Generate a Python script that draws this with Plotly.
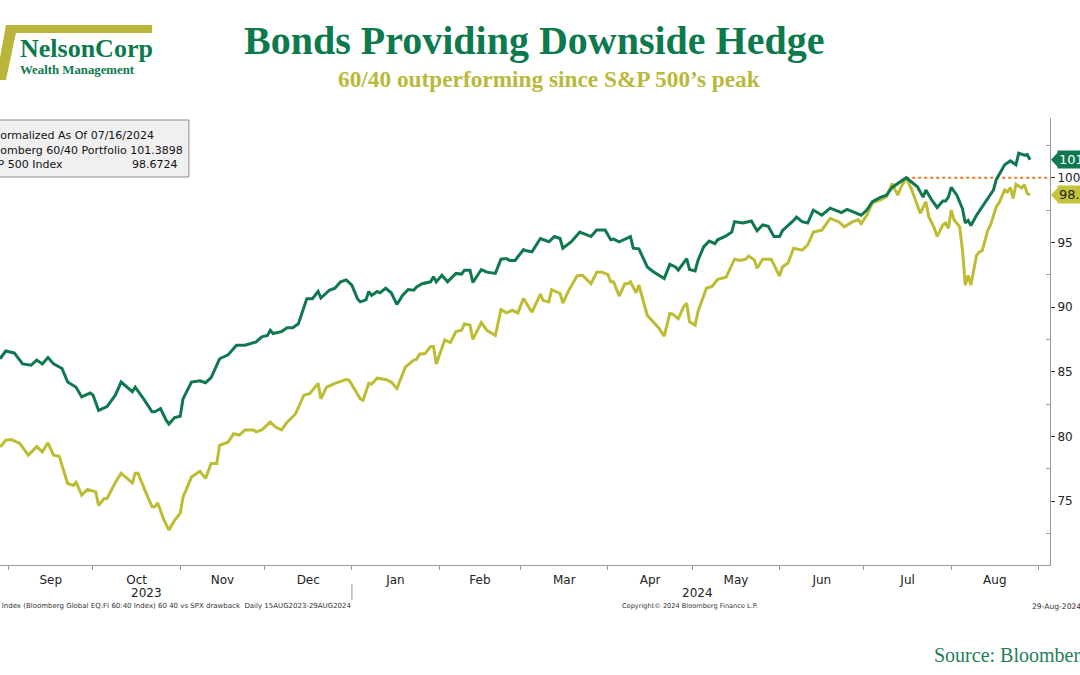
import plotly.graph_objects as go

# ---------------- data ----------------
green_dates = [
    "2023-08-29", "2023-08-31", "2023-09-03", "2023-09-06", "2023-09-09", "2023-09-11", "2023-09-13",
    "2023-09-15", "2023-09-17", "2023-09-20", "2023-09-22", "2023-09-25", "2023-09-27", "2023-09-30",
    "2023-10-01", "2023-10-03", "2023-10-06", "2023-10-09", "2023-10-11", "2023-10-15", "2023-10-16",
    "2023-10-19", "2023-10-22", "2023-10-23", "2023-10-25", "2023-10-27", "2023-10-28", "2023-10-30",
    "2023-11-01", "2023-11-02", "2023-11-05", "2023-11-08", "2023-11-10", "2023-11-12", "2023-11-15",
    "2023-11-18", "2023-11-21", "2023-11-24", "2023-11-28", "2023-11-30", "2023-12-02", "2023-12-03",
    "2023-12-04", "2023-12-07", "2023-12-09", "2023-12-11", "2023-12-13", "2023-12-15", "2023-12-16",
    "2023-12-18", "2023-12-20", "2023-12-21", "2023-12-24", "2023-12-26", "2023-12-28", "2023-12-30",
    "2024-01-01", "2024-01-03", "2024-01-04", "2024-01-06", "2024-01-07", "2024-01-08", "2024-01-10",
    "2024-01-11", "2024-01-13", "2024-01-15", "2024-01-17", "2024-01-19", "2024-01-21", "2024-01-23",
    "2024-01-24", "2024-01-26", "2024-01-29", "2024-01-30", "2024-01-31", "2024-02-02", "2024-02-04",
    "2024-02-07", "2024-02-09", "2024-02-10", "2024-02-12", "2024-02-13", "2024-02-16", "2024-02-18",
    "2024-02-21", "2024-02-23", "2024-02-25", "2024-02-26", "2024-02-28", "2024-03-02", "2024-03-03",
    "2024-03-05", "2024-03-08", "2024-03-11", "2024-03-13", "2024-03-15", "2024-03-16", "2024-03-19",
    "2024-03-22", "2024-03-26", "2024-03-28", "2024-03-31", "2024-04-02", "2024-04-03", "2024-04-05",
    "2024-04-09", "2024-04-10", "2024-04-12", "2024-04-15", "2024-04-17", "2024-04-19", "2024-04-21",
    "2024-04-23", "2024-04-25", "2024-04-26", "2024-04-28", "2024-04-29", "2024-04-30", "2024-05-02",
    "2024-05-03", "2024-05-05", "2024-05-07", "2024-05-09", "2024-05-10", "2024-05-13", "2024-05-15",
    "2024-05-16", "2024-05-19", "2024-05-22", "2024-05-24", "2024-05-26", "2024-05-28", "2024-05-30",
    "2024-06-01", "2024-06-02", "2024-06-06", "2024-06-07", "2024-06-09", "2024-06-11", "2024-06-13",
    "2024-06-16", "2024-06-19", "2024-06-21", "2024-06-23", "2024-06-25", "2024-06-28", "2024-06-30",
    "2024-07-02", "2024-07-04", "2024-07-07", "2024-07-09", "2024-07-11", "2024-07-14", "2024-07-16",
    "2024-07-20", "2024-07-22", "2024-07-23", "2024-07-25", "2024-07-27", "2024-07-29", "2024-07-30",
    "2024-07-31", "2024-08-01", "2024-08-03", "2024-08-05", "2024-08-06", "2024-08-07", "2024-08-08",
    "2024-08-10", "2024-08-12", "2024-08-14", "2024-08-16", "2024-08-17", "2024-08-20", "2024-08-22",
    "2024-08-24", "2024-08-25", "2024-08-27", "2024-08-28", "2024-08-29",
]
green_values = [
    86.0, 86.6, 86.45, 85.6, 85.5, 85.9, 85.6,
    86.1, 85.6, 85.25, 84.2, 83.8, 83.05, 83.35,
    83.2, 82.0, 82.3, 83.2, 84.2, 83.45, 83.8,
    82.9, 81.9, 81.9, 82.15, 81.25, 80.95, 81.45,
    81.55, 82.9, 84.2, 84.3, 84.15, 84.55, 86.0,
    86.3, 87.05, 87.05, 87.3, 87.7, 87.8, 88.2,
    87.95, 88.1, 88.4, 88.4, 88.7, 89.9, 90.65,
    90.65, 91.2, 90.7, 91.3, 91.45, 91.95, 92.1,
    91.7, 90.65, 90.4, 90.55, 91.2, 90.9, 91.2,
    91.1, 91.45, 91.1, 90.2, 90.9, 91.35, 91.3,
    91.55, 91.8, 91.95, 92.35, 91.95, 92.45, 91.95,
    92.6, 92.55, 92.85, 92.85, 91.9, 92.9, 92.7,
    92.6, 93.7, 93.75, 93.6, 93.6, 94.45, 94.35,
    94.27, 95.3, 95.05, 95.45, 95.3, 94.55, 95.05,
    95.8, 95.45, 95.95, 95.95, 95.2, 95.25, 95.05,
    95.45, 94.55, 94.5, 93.1, 92.75, 92.5, 92.2,
    93.3, 93.1, 92.85, 93.4, 93.75, 92.9, 92.8,
    93.6, 94.65, 95.1, 94.9, 95.2, 95.5, 95.8,
    96.6, 96.5, 96.65, 95.9, 96.35, 96.25, 95.45,
    95.45, 95.9, 96.7, 96.95, 96.6, 96.5, 97.5,
    97.1, 97.65, 97.5, 97.3, 97.55, 97.25, 97.1,
    97.5, 98.15, 98.5, 98.65, 99.25, 99.7, 100.0,
    99.3, 98.5, 99.05, 98.3, 97.7, 98.2, 98.2,
    98.5, 99.25, 98.65, 97.6, 96.5, 96.7, 96.3,
    97.1, 97.75, 98.3, 99.05, 99.85, 101.0, 101.3,
    101.0, 101.9, 101.75, 101.8, 101.39,
]

yellow_dates = [
    "2023-08-29", "2023-08-31", "2023-09-02", "2023-09-05", "2023-09-08", "2023-09-11", "2023-09-13",
    "2023-09-15", "2023-09-17", "2023-09-19", "2023-09-22", "2023-09-24", "2023-09-25", "2023-09-27",
    "2023-09-29", "2023-10-02", "2023-10-03", "2023-10-05", "2023-10-06", "2023-10-09", "2023-10-11",
    "2023-10-15", "2023-10-16", "2023-10-17", "2023-10-20", "2023-10-22", "2023-10-23", "2023-10-24",
    "2023-10-26", "2023-10-28", "2023-10-30", "2023-11-01", "2023-11-02", "2023-11-05", "2023-11-08",
    "2023-11-10", "2023-11-12", "2023-11-14", "2023-11-15", "2023-11-18", "2023-11-20", "2023-11-22",
    "2023-11-24", "2023-11-27", "2023-11-28", "2023-11-30", "2023-12-03", "2023-12-05", "2023-12-07",
    "2023-12-09", "2023-12-12", "2023-12-14", "2023-12-15", "2023-12-17", "2023-12-20", "2023-12-21",
    "2023-12-23", "2023-12-26", "2023-12-30", "2023-12-31", "2024-01-02", "2024-01-04", "2024-01-05",
    "2024-01-07", "2024-01-08", "2024-01-10", "2024-01-13", "2024-01-15", "2024-01-17", "2024-01-20",
    "2024-01-23", "2024-01-24", "2024-01-25", "2024-01-27", "2024-01-29", "2024-01-30", "2024-01-31",
    "2024-02-03", "2024-02-05", "2024-02-07", "2024-02-09", "2024-02-10", "2024-02-12", "2024-02-13",
    "2024-02-16", "2024-02-18", "2024-02-21", "2024-02-23", "2024-02-25", "2024-02-27", "2024-02-29",
    "2024-03-02", "2024-03-05", "2024-03-08", "2024-03-09", "2024-03-11", "2024-03-12", "2024-03-15",
    "2024-03-16", "2024-03-18", "2024-03-21", "2024-03-23", "2024-03-26", "2024-03-28", "2024-03-30",
    "2024-04-01", "2024-04-02", "2024-04-03", "2024-04-05", "2024-04-07", "2024-04-08", "2024-04-09",
    "2024-04-11", "2024-04-12", "2024-04-15", "2024-04-16", "2024-04-18", "2024-04-19", "2024-04-21",
    "2024-04-23", "2024-04-24", "2024-04-26", "2024-04-28", "2024-04-29", "2024-04-30", "2024-05-02",
    "2024-05-03", "2024-05-06", "2024-05-08", "2024-05-10", "2024-05-13", "2024-05-16", "2024-05-18",
    "2024-05-20", "2024-05-21", "2024-05-23", "2024-05-24", "2024-05-26", "2024-05-29", "2024-06-01",
    "2024-06-02", "2024-06-04", "2024-06-06", "2024-06-09", "2024-06-11", "2024-06-13", "2024-06-15",
    "2024-06-16", "2024-06-19", "2024-06-22", "2024-06-24", "2024-06-27", "2024-06-29", "2024-06-30",
    "2024-07-02", "2024-07-04", "2024-07-07", "2024-07-09", "2024-07-11", "2024-07-13", "2024-07-14",
    "2024-07-16", "2024-07-18", "2024-07-20", "2024-07-21", "2024-07-23", "2024-07-24", "2024-07-26",
    "2024-07-27", "2024-07-29", "2024-07-30", "2024-07-31", "2024-08-01", "2024-08-02", "2024-08-04",
    "2024-08-05", "2024-08-06", "2024-08-07", "2024-08-08", "2024-08-10", "2024-08-11", "2024-08-12",
    "2024-08-14", "2024-08-15", "2024-08-17", "2024-08-18", "2024-08-20", "2024-08-21", "2024-08-22",
    "2024-08-23", "2024-08-24", "2024-08-26", "2024-08-27", "2024-08-28", "2024-08-29",
]
yellow_values = [
    79.18, 79.7, 79.75, 79.45, 78.55, 79.2, 78.8,
    79.5, 78.55, 78.45, 76.35, 76.2, 76.45, 75.45,
    75.9, 75.7, 74.65, 75.2, 75.2, 76.45, 77.15,
    76.4, 77.15, 77.15, 75.55, 74.55, 74.55, 74.85,
    73.65, 72.75, 73.5, 74.05, 75.3, 76.85, 77.3,
    76.75, 77.9, 77.9, 79.3, 79.55, 80.2, 80.1,
    80.5, 80.5, 80.35, 80.5, 81.1, 80.7, 80.5,
    81.1, 81.75, 82.8, 83.2, 83.3, 84.1, 82.9,
    83.8, 84.1, 84.4, 84.35, 83.6, 82.9, 82.8,
    84.1, 84.05, 84.5, 84.4, 84.2, 83.7, 85.35,
    85.9, 85.95, 86.35, 86.4, 86.95, 86.95, 85.6,
    87.45, 87.25, 88.1, 88.2, 88.7, 88.6, 87.5,
    88.8, 88.2, 87.8, 89.8, 89.55, 89.75, 89.55,
    90.65, 89.6, 91.0, 90.5, 90.4, 91.35, 91.05,
    90.3, 91.25, 92.4, 92.45, 91.8, 92.7, 92.7,
    92.5, 91.95, 91.95, 90.85, 91.8, 91.8, 91.95,
    91.1, 91.7, 89.35, 89.1, 88.6, 88.4, 87.75,
    89.5, 89.45, 89.1, 90.05, 90.3, 88.85, 88.6,
    89.65, 91.45, 91.6, 92.15, 92.3, 93.7, 93.6,
    93.7, 93.95, 93.65, 93.0, 93.7, 93.7, 92.4,
    93.1, 93.4, 94.55, 94.4, 94.8, 95.8, 95.9,
    95.95, 96.85, 96.6, 96.2, 96.6, 96.75, 96.45,
    97.1, 98.05, 98.3, 98.55, 99.55, 98.65, 99.2,
    100.0, 99.05, 97.9, 97.25, 98.15, 97.0, 96.1,
    95.45, 96.35, 96.5, 96.1, 97.5, 96.75, 96.2,
    94.4, 91.7, 92.45, 91.7, 94.0, 94.25, 94.35,
    95.95, 96.35, 97.75, 98.05, 99.05, 98.9, 99.25,
    98.4, 99.5, 99.2, 99.45, 98.8, 98.67,
]

green_name = "Bloomberg 60/40 Portfolio"
yellow_name = "S&P 500 Index"
green_last = 101.3898
yellow_last = 98.6724
normalize_date = "2024-07-16"
normalize_level = 100
y_tickvals = [75, 80, 85, 90, 95, 100]
y_minor_tickvals = [72.5, 77.5, 82.5, 87.5, 92.5, 97.5, 102.5]
year_labels = ["2023", "2024"]
year_label_dates = ["2023-10-20", "2024-05-03"]
year_break_date = "2024-01-01"

# ---------------- layout geometry ----------------
W, H = 1080, 675
ML, MR, MT, MB = 0, 24, 118, 110
PW = W - ML - MR
PH = H - MT - MB
Y_RANGE = [70.05, 104.62]


def px(xpix):
    return (xpix - ML) / PW


def py(ypix):
    return 1 - (ypix - MT) / PH


GREEN = "#10784e"
YELLOW = "#bdbd34"
TITLE_GREEN = "#0d7a4e"
OLIVE = "#b9b53a"
AXIS = "#9a9a9a"
TICKFONT = "DejaVu Sans"

fig = go.Figure()
fig.add_trace(go.Scatter(x=yellow_dates, y=yellow_values, mode="lines", name=yellow_name,
                         line=dict(color=YELLOW, width=3), showlegend=False))
fig.add_trace(go.Scatter(x=green_dates, y=green_values, mode="lines", name=green_name,
                         line=dict(color=GREEN, width=3), showlegend=False))

fig.update_layout(
    width=W, height=H,
    margin=dict(l=ML, r=MR, t=MT, b=MB),
    paper_bgcolor="white", plot_bgcolor="white",
    showlegend=False,
    xaxis=dict(
        type="date",
        range=["2023-08-28 23:00", "2024-09-05 02:30"],
        dtick="M1", tick0="2023-09-01", tickformat="%b", ticklabelmode="period",
        ticks="outside", ticklen=4, tickcolor=AXIS,
        showline=True, linecolor=AXIS, linewidth=1,
        showgrid=False, zeroline=False,
        tickfont=dict(family=TICKFONT, size=12, color="#222"),
    ),
    yaxis=dict(
        side="right",
        range=Y_RANGE,
        tickvals=y_tickvals,
        ticks="outside", ticklen=4, tickcolor="#333",
        showline=True, linecolor=AXIS, linewidth=1,
        showgrid=False, zeroline=False,
        tickfont=dict(family=TICKFONT, size=12, color="#222"),
        minor=dict(tickvals=y_minor_tickvals, ticks="inside", ticklen=4, tickcolor=AXIS),
    ),
)

shapes = []
# orange dotted line at the normalisation level
shapes.append(dict(type="line", xref="x", yref="y", x0=normalize_date, x1="2024-09-10",
                   y0=normalize_level, y1=normalize_level,
                   line=dict(color="#f07a1e", width=2, dash="dot"), layer="below"))

# logo mark
logo_pts = [(6, 25), (153, 25), (153, 33), (16, 33), (6, 80), (-4, 80)]
path = "M " + " L ".join(f"{px(a):.5f},{py(b):.5f}" for a, b in logo_pts) + " Z"
shapes.append(dict(type="path", xref="paper", yref="paper", path=path,
                   fillcolor=OLIVE, line=dict(width=0)))

# legend box
shapes.append(dict(type="rect", xref="paper", yref="paper",
                   x0=px(-6), x1=px(190), y0=py(177), y1=py(120),
                   fillcolor="#f0f0f0", line=dict(color="#8a8a8a", width=1)))

# year separator on the time axis
shapes.append(dict(type="line", xref="x", yref="paper", x0=year_break_date, x1=year_break_date,
                   y0=py(584), y1=py(600), line=dict(color="#bbbbbb", width=1.5)))

# pointed value tags on the right
for val, col in [(green_last, GREEN), (yellow_last, "#c4c43c")]:
    half = 7.5 * (Y_RANGE[1] - Y_RANGE[0]) / PH
    tri = (f"M {px(1057):.5f},{val:.4f} L {px(1064):.5f},{val + half:.4f} "
           f"L {px(1064):.5f},{val - half:.4f} Z")
    shapes.append(dict(type="path", xref="paper", yref="y", path=tri,
                       fillcolor=col, line=dict(width=0)))

fig.update_layout(shapes=shapes)

ann = []
# title + subtitle
ann.append(dict(text="<b>Bonds Providing Downside Hedge</b>", xref="paper", yref="paper",
                x=px(538), y=py(40), xanchor="center", yanchor="middle", showarrow=False,
                font=dict(family="Liberation Serif", size=40, color=TITLE_GREEN)))
ann.append(dict(text="<b>60/40 outperforming since S&P 500’s peak</b>", xref="paper", yref="paper",
                x=px(552), y=py(79), xanchor="center", yanchor="middle", showarrow=False,
                font=dict(family="Liberation Serif", size=23.3, color="#b9b93c")))
# logo text
ann.append(dict(text="<b>NelsonCorp</b>", xref="paper", yref="paper",
                x=px(18), y=py(49), xanchor="left", yanchor="middle", showarrow=False,
                font=dict(family="Liberation Serif", size=26, color=TITLE_GREEN)))
ann.append(dict(text="<b>Wealth Management</b>", xref="paper", yref="paper",
                x=px(18), y=py(70.5), xanchor="left", yanchor="middle", showarrow=False,
                font=dict(family="Liberation Serif", size=12.8, color=TITLE_GREEN)))

# legend box text
lfont = dict(family=TICKFONT, size=11, color="#111")
ann.append(dict(text=f"Normalized As Of {normalize_date[5:7]}/{normalize_date[8:10]}/{normalize_date[:4]}",
                xref="paper", yref="paper", x=px(-10.5), y=py(135), xanchor="left", yanchor="middle",
                showarrow=False, font=lfont))
ann.append(dict(text=f"{green_name} {green_last:.4f}", xref="paper", yref="paper",
                x=px(-19.5), y=py(150), xanchor="left", yanchor="middle", showarrow=False, font=lfont))
ann.append(dict(text=yellow_name, xref="paper", yref="paper",
                x=px(-19.7), y=py(164), xanchor="left", yanchor="middle", showarrow=False, font=lfont))
ann.append(dict(text=f"{yellow_last:.4f}", xref="paper", yref="paper",
                x=px(131), y=py(164), xanchor="left", yanchor="middle", showarrow=False, font=lfont))

# value tags
ann.append(dict(text=f"{green_last:.2f}", xref="paper", yref="y", x=px(1063), y=green_last,
                xanchor="left", yanchor="middle", showarrow=False, bgcolor=GREEN, borderpad=1,
                font=dict(family=TICKFONT, size=13, color="white")))
ann.append(dict(text=f"{yellow_last:.2f}", xref="paper", yref="y", x=px(1063), y=yellow_last,
                xanchor="left", yanchor="middle", showarrow=False, bgcolor="#c4c43c", borderpad=1,
                font=dict(family=TICKFONT, size=13, color="#222")))

# year labels
for lab, d in zip(year_labels, year_label_dates):
    ann.append(dict(text=lab, xref="x", yref="paper", x=d, y=py(593), xanchor="center",
                    yanchor="middle", showarrow=False,
                    font=dict(family=TICKFONT, size=12, color="#222")))

# footer
sfont = dict(family=TICKFONT, size=7, color="#333")
ann.append(dict(text="SPX Index (Bloomberg Global EQ:FI 60:40 Index) 60 40 vs SPX drawback  Daily 15AUG2023-29AUG2024",
                xref="paper", yref="paper", x=px(356), y=py(606), xanchor="right", yanchor="middle",
                showarrow=False, font=sfont))
ann.append(dict(text="Copyright© 2024 Bloomberg Finance L.P.", xref="paper", yref="paper",
                x=px(624), y=py(606), xanchor="left", yanchor="middle", showarrow=False,
                font=dict(family=TICKFONT, size=6.6, color="#333")))
ann.append(dict(text="29-Aug-2024", xref="paper", yref="paper",
                x=px(1036), y=py(606), xanchor="left", yanchor="middle", showarrow=False,
                font=dict(family=TICKFONT, size=7.6, color="#333")))
ann.append(dict(text="Source: Bloomberg", xref="paper", yref="paper",
                x=px(937), y=py(655), xanchor="left", yanchor="middle", showarrow=False,
                font=dict(family="Liberation Serif", size=20, color="#1e7f57")))

fig.update_layout(annotations=ann)

fig.write_html("out.html", include_plotlyjs=True, full_html=True,
               config={"displayModeBar": False},
               post_script="document.body.style.margin='0';")
